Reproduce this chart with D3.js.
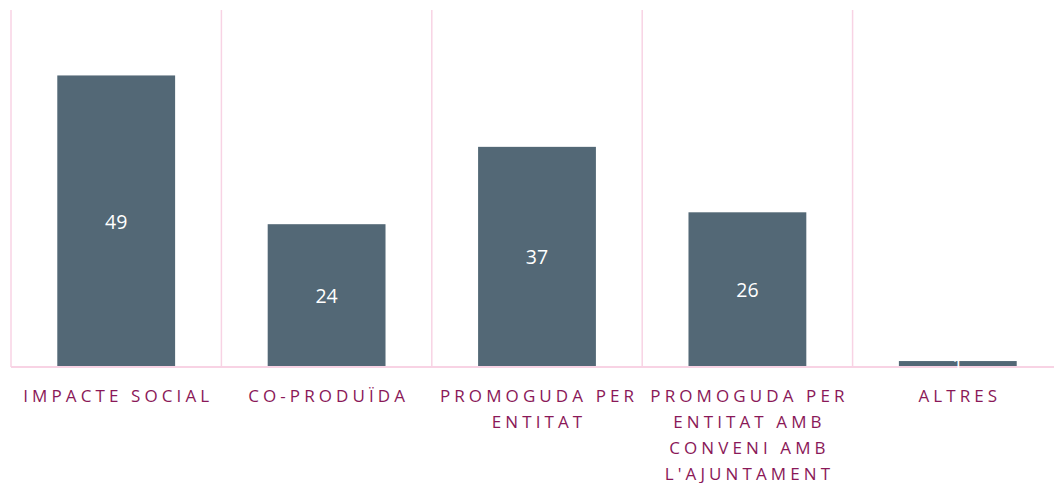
<!DOCTYPE html>
<html>
<head>
<meta charset="utf-8">
<script src="https://cdn.jsdelivr.net/npm/d3@7"></script>
<style>
  body { margin:0; background:#fff; }
  svg { display:block; }
</style>
</head>
<body>
<div id="chart"></div>
<script>
var w=1054, h=483;
var padding={top:10, bottom:116, left:11, right:-9};

// data
var categories=["IMPACTE SOCIAL","CO-PRODUÏDA","PROMOGUDA PER ENTITAT","PROMOGUDA PER ENTITAT AMB CONVENI AMB L'AJUNTAMENT","ALTRES"];
var values=[49,24,37,26,1];
var yTicks=[0,60];

var svg=d3.select("#chart").append("svg")
          .attr("width",w)
          .attr("height",h);

var xScale=d3.scaleBand()
             .domain(categories)
             .range([padding.left,w-padding.right])
             .paddingInner(0.44)
             .paddingOuter(0.22);

var yScale=d3.scaleLinear()
             .domain(d3.extent(yTicks))
             .range([h-padding.bottom,padding.top]);

var step=xScale.step();
var bandStart=function(d) {return xScale(d)-xScale.paddingOuter()*step;};

//Vertical separators
svg.selectAll("line.sep")
   .data(categories)
   .enter()
   .append("line")
   .attr("class","sep")
   .attr("x1",function(d) {return bandStart(d);})
   .attr("x2",function(d) {return bandStart(d);})
   .attr("y1",yScale(60))
   .attr("y2",yScale(0))
   .style("stroke","#F8D3E4")
   .style("stroke-width",1.5);

//Bars
svg.selectAll("rect.bar")
   .data(values)
   .enter()
   .append("rect")
   .attr("class","bar")
   .attr("x",function(d,i) {return xScale(categories[i]);})
   .attr("y",function(d) {return yScale(d);})
   .attr("width",xScale.bandwidth())
   .attr("height",function(d) {return yScale(0)-yScale(d);})
   .style("fill","#536876");

//Baseline
svg.append("line")
   .attr("x1",padding.left)
   .attr("x2",w-padding.right)
   .attr("y1",yScale(0))
   .attr("y2",yScale(0))
   .style("stroke","#F8D3E4")
   .style("stroke-width",2);

//Value labels
svg.selectAll("text.val")
   .data(values)
   .enter()
   .append("text")
   .attr("class","val")
   .attr("x",function(d,i) {return xScale(categories[i])+xScale.bandwidth()/2;})
   .attr("y",function(d) {return (yScale(d)+yScale(0))/2;})
   .attr("text-anchor","middle")
   .attr("dominant-baseline","central")
   .style("font-family","'Open Sans', sans-serif")
   .style("font-size","19.5px")
   .style("fill","#ffffff")
   .text(function(d) {return d;});

//Category labels, wrapped within the band
var spacing=4.1;
var maxWidth=204;
var labels=svg.selectAll("text.cat")
   .data(categories)
   .enter()
   .append("text")
   .attr("class","cat")
   .attr("text-anchor","middle")
   .style("font-family","'Open Sans', sans-serif")
   .style("font-size","17px")
   .style("letter-spacing",spacing+"px")
   .style("fill","#8A1858");

labels.each(function(d) {
    var t=d3.select(this);
    var cx=bandStart(d)+step/2+spacing/2;
    var words=d.split(" ");
    var lines=[], line=[];
    var probe=t.append("tspan");
    words.forEach(function(wd) {
        var test=line.concat([wd]).join(" ");
        probe.text(test);
        if (line.length && probe.node().getComputedTextLength()>maxWidth) {
            lines.push(line.join(" "));
            line=[wd];
        } else {
            line.push(wd);
        }
    });
    lines.push(line.join(" "));
    probe.remove();
    lines.forEach(function(l,i) {
        t.append("tspan")
         .attr("x",cx)
         .attr("y",395+i*26)
         .attr("dominant-baseline","central")
         .text(l);
    });
});
</script>
</body>
</html>
